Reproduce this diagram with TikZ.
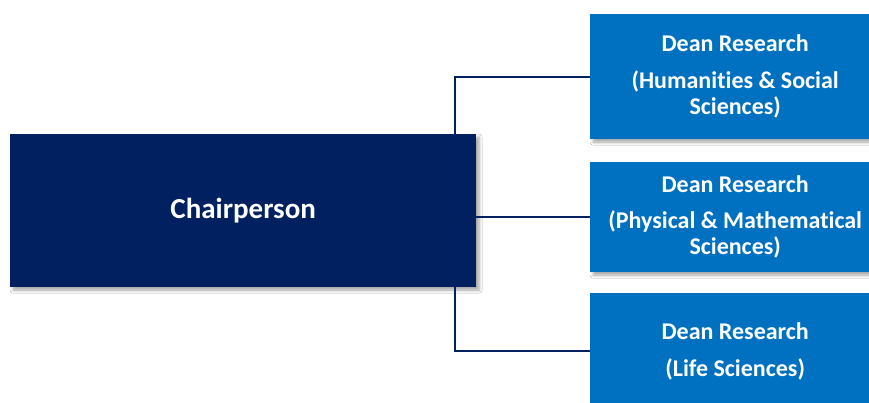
\documentclass[tikz,border=0pt]{standalone}
\usepackage{fontspec}
\setmainfont{Carlito}[Ligatures=NoCommon]
\usetikzlibrary{shadows.blur}
\definecolor{navy}{HTML}{002060}
\definecolor{deanblue}{HTML}{0070C0}
\tikzset{
  shade3/.style={blur shadow={shadow xshift=3pt,shadow yshift=-3pt,shadow blur steps=6,shadow opacity=35,shadow blur radius=3pt}},
  chairbox/.style={fill=navy,shade3,anchor=north west,minimum width=466pt,minimum height=153pt,inner sep=0pt,text=white,font=\fontsize{29}{32}\selectfont\bfseries},
  deanbox/.style={fill=deanblue,shade3,anchor=north west,minimum width=290pt,inner sep=0pt,text=white,align=center,font=\fontsize{24}{26}\selectfont\bfseries},
  conn/.style={draw=navy,line width=2pt}
}
\begin{document}
\begin{tikzpicture}[x=1pt,y=-1pt]
\clip (0,0) rectangle (869,403);
\fill[white] (0,0) rectangle (869,403);
\node[chairbox] (chair) at (10,134) {Chairperson};
\node[deanbox,minimum height=125pt] (b1) at (590,14) {Dean Research\\[11pt](Humanities \& Social\\Sciences)};
\node[deanbox,minimum height=110pt] (b2) at (590,162) {Dean Research\\[10pt](Physical \& Mathematical\\Sciences)};
\node[deanbox,minimum height=116pt] (b3) at (590,293) {Dean Research\\[11pt](Life Sciences)};
\coordinate (j) at (455,0);
\draw[conn] (chair.north -| j) |- (b1.west);
\draw[conn] (chair.east |- b2.west) -- (b2.west);
\draw[conn] (chair.south -| j) |- (b3.west);
\end{tikzpicture}
\end{document}
